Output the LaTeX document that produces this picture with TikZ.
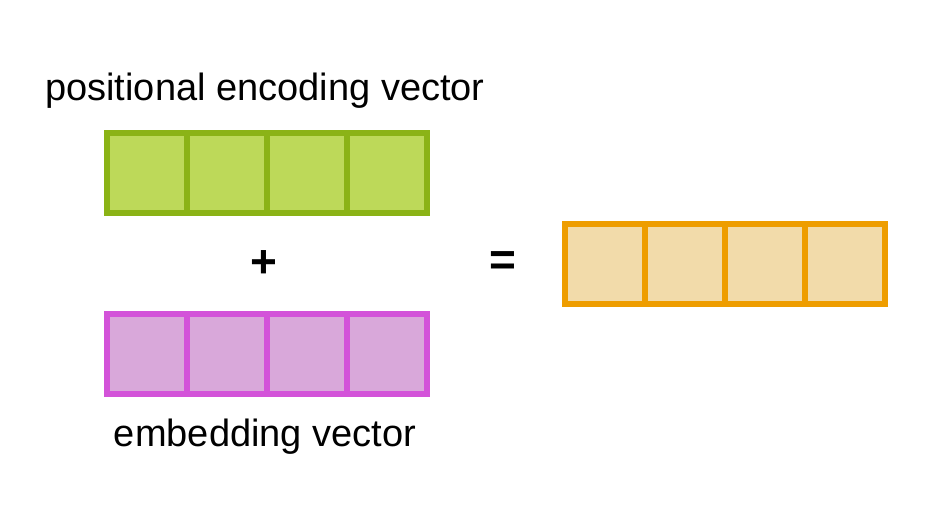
\documentclass[tikz,border=0pt]{standalone}
\usepackage{fontspec}
\setmainfont{Liberation Sans}
\definecolor{gborder}{HTML}{8BB316}
\definecolor{gfill}{HTML}{BDD959}
\definecolor{oborder}{HTML}{EE9D00}
\definecolor{ofill}{HTML}{F2DBAA}
\definecolor{pborder}{HTML}{D353D9}
\definecolor{pfill}{HTML}{D9A8DA}
\tikzset{
  cell/.style={draw, line width=6pt, minimum width=80pt, minimum height=80pt, inner sep=0pt, outer sep=0pt},
  gcell/.style={cell, draw=gborder, fill=gfill},
  ocell/.style={cell, draw=oborder, fill=ofill},
  pcell/.style={cell, draw=pborder, fill=pfill},
  lbl/.style={inner sep=0pt, anchor=base, font=\fontsize{38}{44}\selectfont},
  op/.style={inner sep=0pt, font=\fontsize{46}{50}\selectfont\bfseries}
}
\begin{document}
\begin{tikzpicture}[x=1pt,y=-1pt]
\useasboundingbox (0,0) rectangle (935,528);
\foreach \i in {1,...,4}{
  \node[gcell] (g\i) at ({107+80*\i-40},173) {};
  \node[pcell] (p\i) at ({107+80*\i-40},354) {};
  \node[ocell] (o\i) at ({565+80*\i-40},264) {};
}
\node[lbl] (t1) at (265,100) {positional encoding vector};
\node[lbl] (t2) at (265,446) {embedding vector};
\node[op] (plus) at (264,264) {+};
\node[op] (eq) at (503,264) {=};
\end{tikzpicture}
\end{document}
